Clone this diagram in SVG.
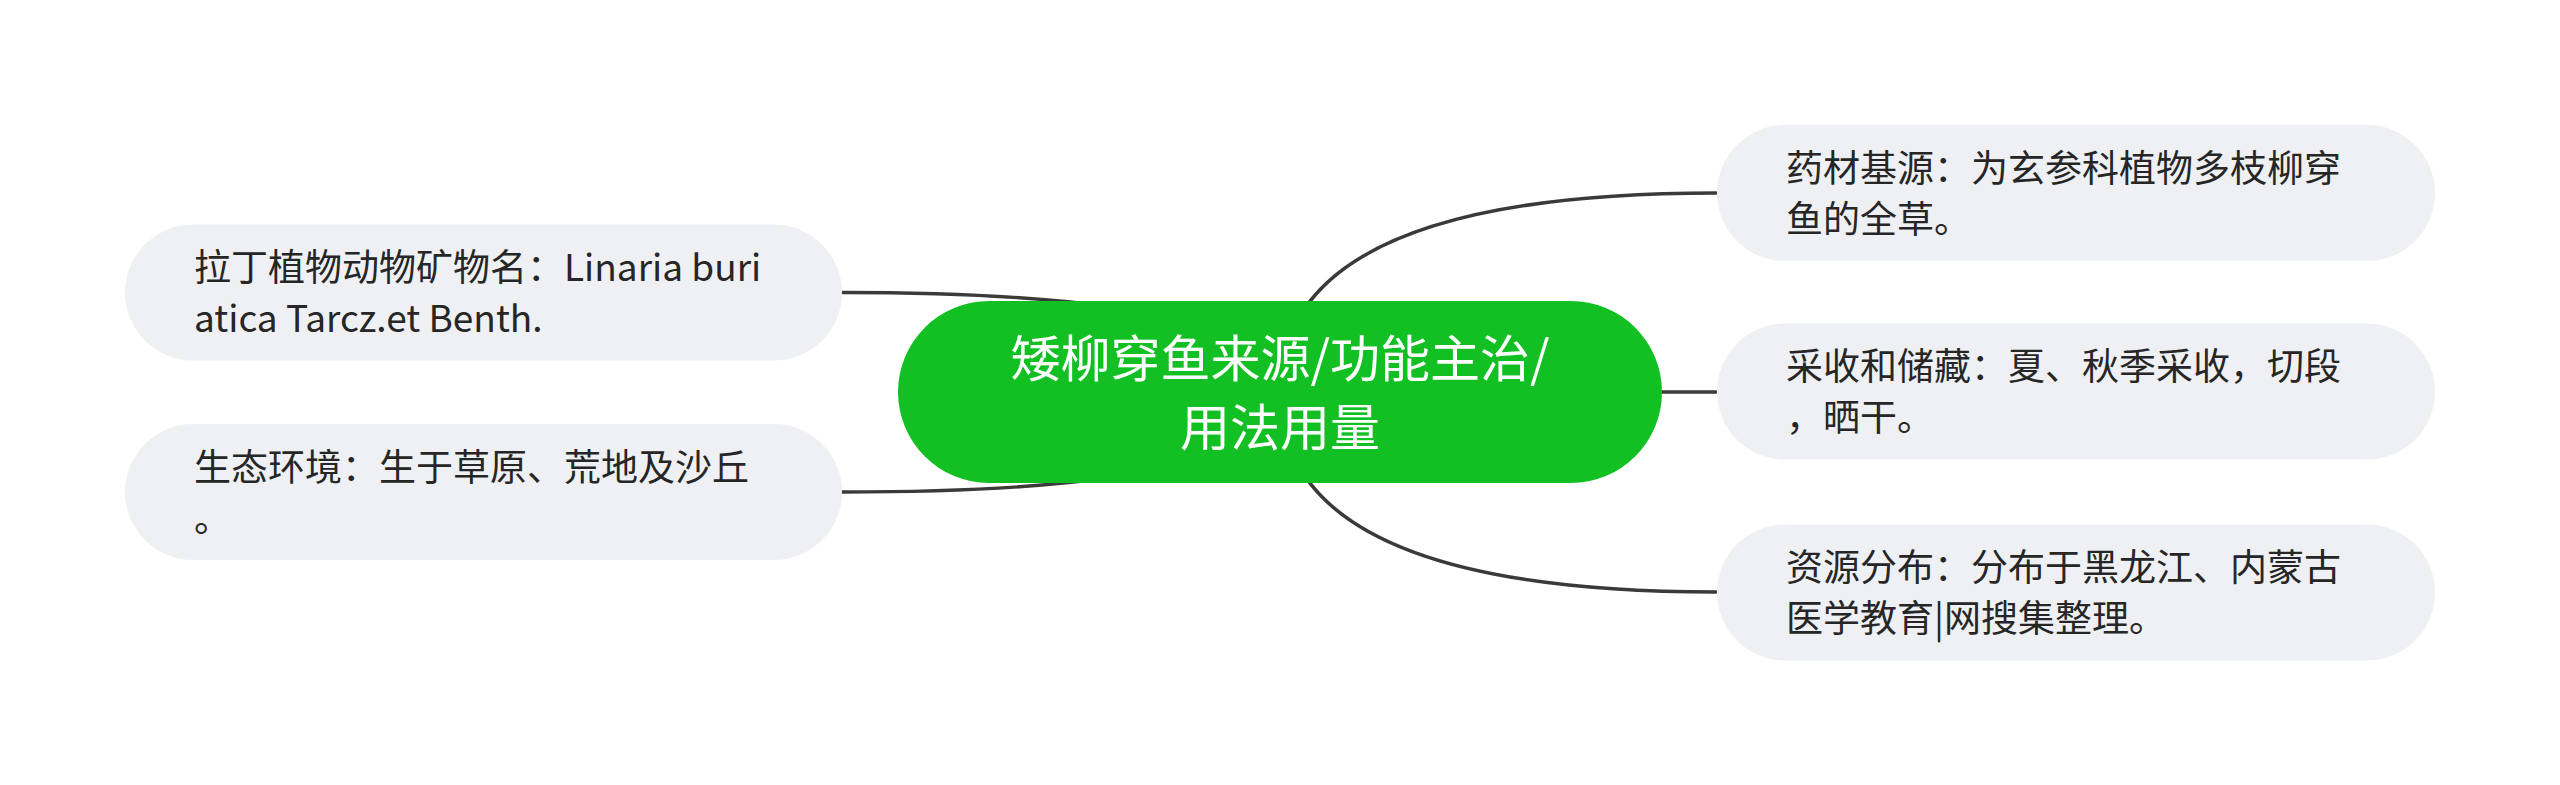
<svg xmlns="http://www.w3.org/2000/svg" width="2560" height="785" viewBox="0 0 2560 785">
<style>
.edge{fill:none;stroke:#3a3a3a;stroke-width:3.5;stroke-linecap:round}
.sub{fill:#eef0f3}
.subt{font-family:"Noto Sans CJK SC","Noto Sans",sans-serif;font-size:37px;fill:#262626}
.roott{font-family:"Noto Sans CJK SC","Noto Sans",sans-serif;font-size:50px;fill:#ffffff;text-anchor:middle}
</style>
<rect width="2560" height="785" fill="#ffffff"/>
<g id="connectors">
<path class="edge" d="M1280,392 Q1280,193 1716,193"/>
<path class="edge" d="M1280,392 L1716,392"/>
<path class="edge" d="M1280,392 Q1280,592 1716,592"/>
<path class="edge" d="M1280,392 Q1280,292.5 842,292.5"/>
<path class="edge" d="M1280,392 Q1280,492 842,492"/>
</g>
<g id="root">
<rect x="898" y="301" width="764" height="182" rx="91" fill="#13c023"/>
<text class="roott" x="1280" y="377">矮柳穿鱼来源/功能主治/</text>
<text class="roott" x="1280" y="446">用法用量</text>
</g>
<g id="node-r1">
<rect class="sub" x="1717" y="125" width="718" height="136" rx="68"/>
<text class="subt" x="1786" y="181.5">药材基源：为玄参科植物多枝柳穿</text>
<text class="subt" x="1786" y="232.5">鱼的全草。</text>
</g>
<g id="node-r2">
<rect class="sub" x="1717" y="323.5" width="718" height="136" rx="68"/>
<text class="subt" x="1786" y="380">采收和储藏：夏、秋季采收，切段</text>
<text class="subt" x="1786" y="431">，晒干。</text>
</g>
<g id="node-r3">
<rect class="sub" x="1717" y="524.5" width="718" height="136" rx="68"/>
<text class="subt" x="1786" y="581">资源分布：分布于黑龙江、内蒙古</text>
<text class="subt" x="1786" y="632">医学教育|网搜集整理。</text>
</g>
<g id="node-l1">
<rect class="sub" x="125" y="224.5" width="717" height="136" rx="68"/>
<text class="subt" x="194" y="281">拉丁植物动物矿物名：Linaria buri</text>
<text class="subt" x="194" y="332">atica Tarcz.et Benth.</text>
</g>
<g id="node-l2">
<rect class="sub" x="125" y="424" width="717" height="136" rx="68"/>
<text class="subt" x="194" y="480.5">生态环境：生于草原、荒地及沙丘</text>
<text class="subt" x="194" y="531.5">。</text>
</g>
</svg>
